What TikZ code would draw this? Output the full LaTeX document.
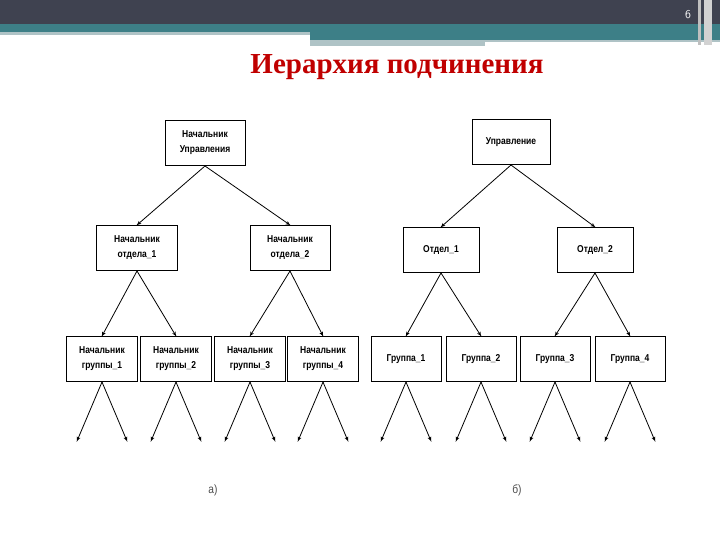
\documentclass[tikz,border=0pt]{standalone}
\usepackage{fontspec}
\setmainfont{Liberation Serif}
\newfontfamily\boxfont[FakeStretch=0.85]{Liberation Sans}
\usetikzlibrary{arrows,positioning,calc}
\definecolor{bandgray}{HTML}{3F4250}
\definecolor{bandteal}{HTML}{3D7F87}
\definecolor{bandlight}{HTML}{AFC3C6}
\definecolor{titlered}{HTML}{C00000}
\tikzset{
    unit/.style={draw=black, line width=1pt, fill=white, align=center,
        minimum height=45pt,
        font=\boxfont\bfseries\fontsize{10}{15}\selectfont, inner sep=3pt},
    link/.style={draw=black, line width=0.8pt, -latex', shorten >=-1pt},
}
\begin{document}
\begin{tikzpicture}[x=1pt, y=-1pt]
\useasboundingbox (0,0) rectangle (720,540);
% banner
\fill[bandgray] (0,0) rectangle (720,24);
\fill[bandteal] (0,24) rectangle (720,32);
\fill[bandlight] (0,32) rectangle (310,35);
\fill[bandteal] (310,32) rectangle (720,40);
\fill[bandlight] (310,40) rectangle (485,46);
\fill[bandlight] (485,40) rectangle (720,42);
\fill[gray!50] (698,0) rectangle (701,45);
\fill[gray!35] (704,0) rectangle (712,45);
\node[text=white, font=\sffamily\fontsize{12}{12}\selectfont] (num) at (688,15) {6};
\node[text=titlered, font=\bfseries\fontsize{29}{29}\selectfont] (title) at (397,67) {Иерархия подчинения};
% left tree
\node[unit, minimum width=80pt] (a0) at (205,143) {Начальник\\Управления};
\node[unit, minimum width=81pt] (a1) at (137,248) {Начальник\\отдела\_1};
\node[unit, minimum width=80pt] (a2) at (290,248) {Начальник\\отдела\_2};
\foreach \i/\x in {1/102,2/176,3/250,4/323}
    \node[unit, minimum width=71pt] (g\i) at (\x,359) {Начальник\\группы\_\i};
\draw[link] (a0.south) -- (a1.north);
\draw[link] (a0.south) -- (a2.north);
\draw[link] (a1.south) -- (g1.north);
\draw[link] (a1.south) -- (g2.north);
\draw[link] (a2.south) -- (g3.north);
\draw[link] (a2.south) -- (g4.north);
% right tree
\node[unit, minimum width=78pt] (b0) at (511,142) {Управление};
\node[unit, minimum width=76pt] (b1) at (441,250) {Отдел\_1};
\node[unit, minimum width=76pt] (b2) at (595,250) {Отдел\_2};
\foreach \i/\x in {1/406,2/481,3/555,4/630}
    \node[unit, minimum width=70pt] (h\i) at (\x,359) {Группа\_\i};
\draw[link] (b0.south) -- (b1.north);
\draw[link] (b0.south) -- (b2.north);
\draw[link] (b1.south) -- (h1.north);
\draw[link] (b1.south) -- (h2.north);
\draw[link] (b2.south) -- (h3.north);
\draw[link] (b2.south) -- (h4.north);
% leaves
\foreach \n in {g1,g2,g3,g4,h1,h2,h3,h4}{
    \coordinate (\n l) at ($(\n.south)+(-25,59)$);
    \coordinate (\n r) at ($(\n.south)+(25,59)$);
    \draw[link] (\n.south) -- (\n l);
    \draw[link] (\n.south) -- (\n r);
}
\node[font=\boxfont\fontsize{12}{12}\selectfont, text=black!70] (capa) at (213,490) {а)};
\node[font=\boxfont\fontsize{12}{12}\selectfont, text=black!70] (capb) at (517,490) {б)};
\end{tikzpicture}
\end{document}
